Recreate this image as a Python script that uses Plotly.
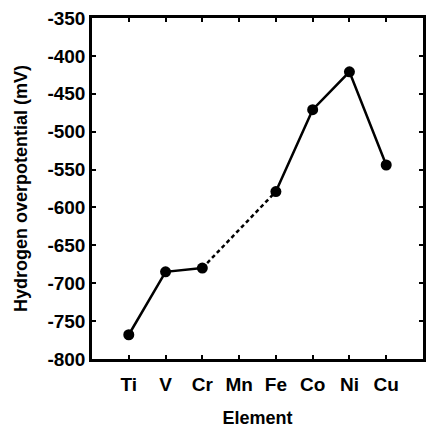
import plotly.graph_objects as go

elements = ["Ti", "V", "Cr", "Mn", "Fe", "Co", "Ni", "Cu"]
overpotential = [-768, -685, -680, None, -579, -471, -421, -544]
y_ticks = [-800, -750, -700, -650, -600, -550, -500, -450, -400, -350]
y_ticklabels = ["-800", "-750", "-700", "-650", "-600", "-550", "-500", "-450", "-400", "-350"]

seg1_x = elements[0:3]
seg1_y = overpotential[0:3]
seg2_x = [elements[2], elements[4]]
seg2_y = [overpotential[2], overpotential[4]]
seg3_x = elements[4:8]
seg3_y = overpotential[4:8]

pts_x = [e for e, v in zip(elements, overpotential) if v is not None]
pts_y = [v for v in overpotential if v is not None]

fig = go.Figure()
fig.add_trace(go.Scatter(x=seg1_x, y=seg1_y, mode="lines",
                         line=dict(color="black", width=2.5), showlegend=False))
fig.add_trace(go.Scatter(x=seg2_x, y=seg2_y, mode="lines",
                         line=dict(color="black", width=2.5, dash="4px,3px"), showlegend=False))
fig.add_trace(go.Scatter(x=seg3_x, y=seg3_y, mode="lines",
                         line=dict(color="black", width=2.5), showlegend=False))
fig.add_trace(go.Scatter(x=pts_x, y=pts_y, mode="markers",
                         marker=dict(color="black", size=11), showlegend=False))

family = "Liberation Sans, Arial, sans-serif"
tick_font = dict(family=family, color="black", size=19, weight="bold")
title_font = dict(family=family, color="black", size=18, weight="bold")

fig.update_layout(
    width=428, height=428,
    margin=dict(l=92, r=2, t=18, b=68),
    paper_bgcolor="white", plot_bgcolor="white",
    font=tick_font,
    xaxis=dict(
        type="category", categoryorder="array", categoryarray=elements,
        range=[-1, 8], showgrid=False, zeroline=False,
        showline=True, linecolor="black", linewidth=2.5, mirror="ticks",
        ticks="inside", ticklen=4, tickwidth=1.5, tickcolor="black",
        ticklabelstandoff=6,
        title=dict(text="Element", font=title_font, standoff=19),
        tickfont=tick_font,
    ),
    yaxis=dict(
        range=[-800, -350], tickmode="array", tickvals=y_ticks, ticktext=y_ticklabels,
        showgrid=False, zeroline=False,
        showline=True, linecolor="black", linewidth=2.5, mirror="ticks",
        ticks="inside", ticklen=4, tickwidth=1.5, tickcolor="black",
        title=dict(text="Hydrogen overpotential (mV)", font=title_font, standoff=16),
        tickfont=tick_font,
    ),
)

fig.write_html("out.html")
